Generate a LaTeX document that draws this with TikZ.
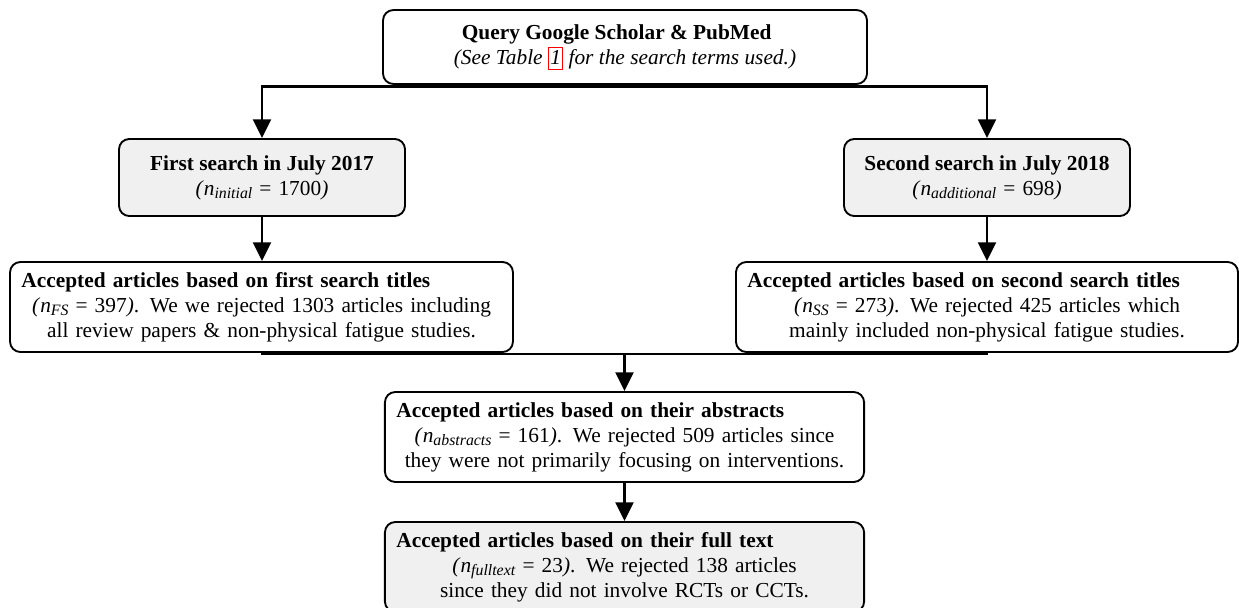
\documentclass[tikz,border=0pt]{standalone}
\usepackage{fontspec}
\setmainfont{Liberation Serif}
\usetikzlibrary{arrows.meta,calc}
\setlength{\parindent}{0pt}
\definecolor{boxgray}{HTML}{F0F0F0}
\newcommand{\nsub}[1]{\textit{n}\raisebox{-1.8pt}{\fontsize{7.6}{8}\selectfont\textit{#1}}}
\newcommand{\eqs}{\hspace{3.4pt}=\hspace{3.4pt}}
\newcommand{\linkone}{{\fboxsep=0.6pt\fboxrule=0.5pt\color{red}\fbox{\color{black}\rule[-1.5pt]{0pt}{8.5pt}\textit{1}}}}
\tikzset{
  box/.style={draw, line width=0.9pt, rounded corners=5pt, inner sep=0pt, fill=white,
              font=\fontsize{10.25}{12}\selectfont},
  gbox/.style={box, fill=boxgray},
  conn/.style={line width=1.4pt},
  arr/.style={conn, -{Triangle[width=8.5pt,length=9pt]}},
}
\begin{document}
\begin{tikzpicture}[x=0.48pt, y=-0.48pt]
\useasboundingbox (0,0) rectangle (1239,607);

\node[box, align=center, minimum width=232.3pt, minimum height=35.5pt] (q) at (625,47)
  {\textbf{Query Google Scholar \& PubMed}\hspace*{8pt}\\
   \textit{(See Table }\linkone\textit{ for the search terms used.)}};

\node[gbox, align=center, minimum width=137.3pt, minimum height=37pt] (s1) at (262,177.5)
  {\textbf{First search in July 2017}\\
   \textit{(}\nsub{initial}\eqs 1700\textit{)}};

\node[gbox, align=center, minimum width=137.3pt, minimum height=37pt] (s2) at (987,177.5)
  {\textbf{Second search in July 2018}\\
   \textit{(}\nsub{additional}\eqs 698\textit{)}};

\node[box, align=left, text width=230.4pt, minimum width=241.4pt, minimum height=43.2pt] (t1) at (261.5,307)
  {\textbf{Accepted articles based on first search titles}\par
   {\centering\textit{(}\nsub{FS}\eqs 397\textit{)}. We we rejected 1303 articles including\\
   all review papers \& non-physical fatigue studies.\par}};

\node[box, align=left, text width=230pt, minimum width=241pt, minimum height=43.2pt] (t2) at (987,307)
  {\textbf{Accepted articles based on second search titles}\par
   {\centering\textit{(}\nsub{SS}\eqs 273\textit{)}. We rejected 425 articles which\\
   mainly included non-physical fatigue studies.\par}};

\node[box, align=left, text width=219pt, minimum width=230pt, minimum height=43.2pt] (ab) at (624.5,437)
  {\textbf{Accepted articles based on their abstracts}\par
   {\centering\textit{(}\nsub{abstracts}\eqs 161\textit{)}. We rejected 509 articles since\\
   they were not primarily focusing on interventions.\par}};

\node[gbox, align=left, text width=219pt, minimum width=230pt, minimum height=43.2pt] (ft) at (624.5,567)
  {\textbf{Accepted articles based on their full text}\par
   {\centering\textit{(}\nsub{fulltext}\eqs 23\textit{)}. We rejected 138 articles\\
   since they did not involve RCTs or CCTs.\par}};

\draw[arr] (q.south) -- ++(0,2) -| (s1.north);
\draw[arr] (q.south) -- ++(0,2) -| (s2.north);
\draw[arr] (s1.south) -- (s1.south |- t1.north);
\draw[arr] (s2.south) -- (s2.south |- t2.north);
\coordinate (m) at (624.5,354);
\draw[conn] (s1.south |- t1.south) |- (m);
\draw[conn] (s2.south |- t2.south) |- (m);
\draw[arr] (m) -- (ab.north);
\draw[arr] (ab.south) -- (ft.north);
\end{tikzpicture}
\end{document}
